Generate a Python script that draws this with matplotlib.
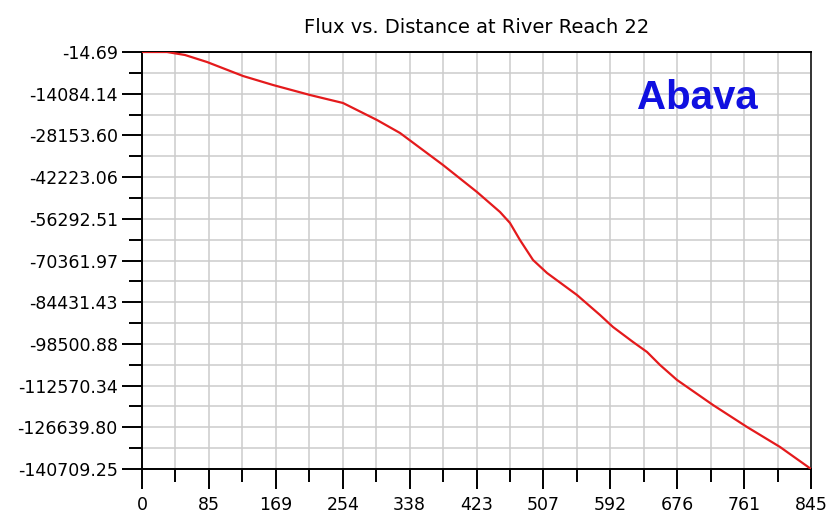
import numpy as np
import matplotlib
matplotlib.use("Agg")
import matplotlib.pyplot as plt
from matplotlib.ticker import AutoMinorLocator

# distance along reach and flux
distance = [0, 31.6, 54.3, 82.1, 127.6, 165.5, 212.2, 253.9, 296.8, 325.9,
            380.2, 423.1, 452.2, 464.8, 477.4, 493.9, 511.6, 549.4, 578.5,
            594.9, 620.2, 637.9, 654.3, 675.8, 721.2, 764.2, 805.9, 845]
flux = [-14.69, -20, -1027, -3389, -8113, -11150, -14523, -17223, -22958,
        -27344, -38141, -47251, -53998, -57710, -63446, -70194, -74580,
        -81999, -88747, -92796, -97857, -101231, -105617, -110678, -119113,
        -126536, -133284, -140709.25]

x_labels = ["0", "85", "169", "254", "338", "423", "507", "592", "676", "761", "845"]
y_labels = ["-14.69", "-14084.14", "-28153.60", "-42223.06", "-56292.51",
            "-70361.97", "-84431.43", "-98500.88", "-112570.34", "-126639.80",
            "-140709.25"]

x_min, x_max = 0, 845
y_top, y_bottom = -14.69, -140709.25

plt.rcParams['font.family'] = ['DejaVu Sans']

fig = plt.figure(figsize=(8.33, 5.17), dpi=100)
ax = fig.add_axes([142 / 833, 1 - 469 / 517, 669 / 833, 417 / 517])

ax.plot(distance, flux, color='#e41a1c', linewidth=1.6, zorder=3)

ax.set_xlim(x_min, x_max)
ax.set_ylim(y_bottom, y_top)

ax.set_xticks(np.linspace(x_min, x_max, len(x_labels)))
ax.set_xticklabels(x_labels)
ax.set_yticks(np.linspace(y_top, y_bottom, len(y_labels)))
ax.set_yticklabels(y_labels)
ax.xaxis.set_minor_locator(AutoMinorLocator(2))
ax.yaxis.set_minor_locator(AutoMinorLocator(2))

ax.tick_params(which='major', direction='out', length=14.4, width=1.4,
               labelsize=12.5, color='black')
ax.tick_params(which='minor', direction='out', length=9.4, width=1.4,
               color='black')
ax.tick_params(axis='x', which='major', pad=5)
ax.tick_params(axis='y', which='major', pad=3)
ax.tick_params(top=False, right=False, which='both')

ax.grid(True, which='both', color='#cccccc', linewidth=1.1, zorder=0)
ax.set_axisbelow(True)

for side in ['left', 'bottom', 'top']:
    ax.spines[side].set_linewidth(1.4)
    ax.spines[side].set_color('black')
ax.spines['right'].set_linewidth(1.4)
ax.spines['right'].set_color('#333333')

ax.set_title("Flux vs. Distance at River Reach 22", fontsize=14, pad=14)

ax.text(0.83, 0.89, "Abava", transform=ax.transAxes, color='#1010e0',
        fontsize=29, fontweight='bold', family='Liberation Sans',
        ha='center', va='center')

fig.savefig("out.png", dpi=100)
